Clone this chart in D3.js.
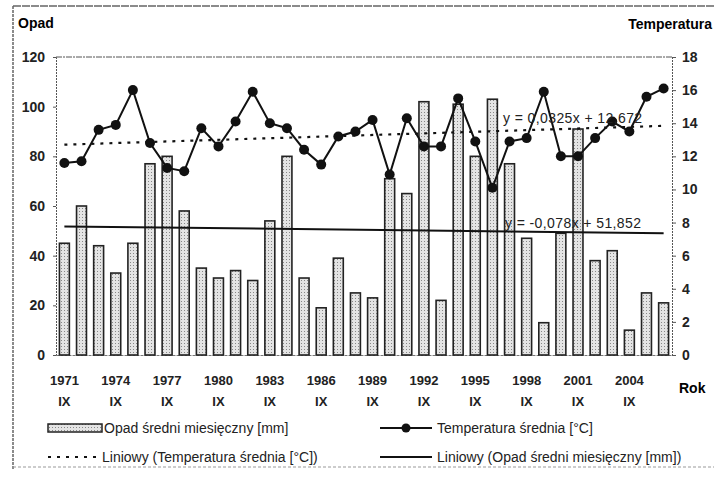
<!DOCTYPE html>
<html>
<head>
<meta charset="utf-8">
<script src="https://cdn.jsdelivr.net/npm/d3@7"></script>
<style>
  body { margin: 0; background: #fff; }
  svg { display: block; }
</style>
</head>
<body>
<div id="wykres"></div>
<script>
var width = 714,
    height = 479;

// dane
var lata = [1971, 1972, 1973, 1974, 1975, 1976, 1977, 1978, 1979, 1980, 1981, 1982,
            1983, 1984, 1985, 1986, 1987, 1988, 1989, 1990, 1991, 1992, 1993, 1994,
            1995, 1996, 1997, 1998, 1999, 2000, 2001, 2002, 2003, 2004, 2005, 2006];
var opad = [45, 60, 44, 33, 45, 77, 80, 58, 35, 31, 34, 30,
            54, 80, 31, 19, 39, 25, 23, 71, 65, 102, 22, 101,
            80, 103, 77, 47, 13, 49, 91, 38, 42, 10, 25, 21];
var temperatura = [11.6, 11.7, 13.6, 13.9, 16.0, 12.8, 11.3, 11.1, 13.7, 12.6, 14.1, 15.9,
                   14.0, 13.7, 12.4, 11.5, 13.2, 13.5, 14.2, 10.9, 14.3, 12.6, 12.6, 15.5,
                   12.9, 10.1, 12.9, 13.1, 15.9, 12.0, 12.0, 13.1, 14.1, 13.5, 15.6, 16.1];
var etykietyLat = [1971, 1974, 1977, 1980, 1983, 1986, 1989, 1992, 1995, 1998, 2001, 2004];
var trendTemp = [0.0325, 12.672];
var trendOpad = [-0.078, 51.852];
var ticksOpad = [0, 20, 40, 60, 80, 100, 120];
var ticksTemp = [0, 2, 4, 6, 8, 10, 12, 14, 16, 18];

var font = "'Liberation Sans', Arial, sans-serif";

var svg = d3.select("#wykres").append("svg")
    .attr("width", width)
    .attr("height", height)
    .style("background-color", "white")
    .attr("font-family", font);

var defs = svg.append("defs");
var wzor = defs.append("pattern")
    .attr("id", "kropki")
    .attr("width", 3)
    .attr("height", 3)
    .attr("patternUnits", "userSpaceOnUse");
wzor.append("rect").attr("width", 3).attr("height", 3).attr("fill", "#e4e4e4");
wzor.append("rect").attr("x", 1).attr("y", 1).attr("width", 1).attr("height", 1).attr("fill", "#888");

// ramka
svg.append("line")
    .attr("x1", 13).attr("x2", 714)
    .attr("y1", 6).attr("y2", 6)
    .attr("stroke", "#666")
    .attr("stroke-width", 1.5)
    .attr("stroke-dasharray", "8,1");
svg.append("line")
    .attr("x1", 13).attr("x2", 13)
    .attr("y1", 6).attr("y2", 470)
    .attr("stroke", "#666")
    .attr("stroke-width", 1.5)
    .attr("stroke-dasharray", "3,1");
svg.append("line")
    .attr("x1", 13).attr("x2", 714)
    .attr("y1", 467).attr("y2", 467)
    .attr("stroke", "#999")
    .attr("stroke-dasharray", "3,2");

var pLeft = 56, pRight = 672, pTop = 57, pBottom = 355;

var x = d3.scaleBand()
    .domain(lata)
    .range([pLeft, pRight])
    .paddingInner(0.42)
    .paddingOuter(0.2);

var yOpad = d3.scaleLinear().domain([0, 120]).range([pBottom, pTop]);
var yTemp = d3.scaleLinear().domain([0, 18]).range([pBottom, pTop]);

function cx(rok) { return x(rok) + x.bandwidth() / 2; }

// linia górna 120
svg.append("line")
    .attr("x1", pLeft).attr("x2", pRight)
    .attr("y1", yOpad(120)).attr("y2", yOpad(120))
    .attr("stroke", "#555")
    .attr("stroke-dasharray", "6,1,2,1");

// osie
var osLewa = svg.append("g")
    .attr("transform", "translate(" + pLeft + ",0)")
    .call(d3.axisLeft(yOpad).tickValues(ticksOpad).tickSize(3).tickPadding(8));
var osPrawa = svg.append("g")
    .attr("transform", "translate(" + pRight + ",0)")
    .call(d3.axisRight(yTemp).tickValues(ticksTemp).tickSize(4).tickPadding(6));
var osDolna = svg.append("g")
    .attr("transform", "translate(0," + pBottom + ")")
    .call(d3.axisBottom(x).tickValues([]).tickSizeOuter(0));

[osLewa, osPrawa].forEach(function(g) {
    g.select(".domain").attr("stroke", "#555").attr("stroke-dasharray", "2,1");
    g.selectAll(".tick line").attr("stroke", "#555");
    g.selectAll(".tick text")
        .attr("font-family", font)
        .style("font-size", "14px")
        .attr("font-weight", "bold")
        .attr("fill", "#222");
});
osDolna.select(".domain").attr("stroke", "#777").attr("stroke-dasharray", "3,1");

// słupki opadu
svg.selectAll("rect.opad")
    .data(lata)
    .enter()
    .append("rect")
    .attr("class", "opad")
    .attr("x", function(d) { return x(d); })
    .attr("width", x.bandwidth())
    .attr("y", function(d, i) { return yOpad(opad[i]); })
    .attr("height", function(d, i) { return pBottom - yOpad(opad[i]); })
    .attr("fill", "url(#kropki)")
    .attr("stroke", "#222")
    .attr("stroke-width", 1.6);

// linie trendu
var n = lata.length;
svg.append("line")
    .attr("x1", cx(lata[0])).attr("x2", cx(lata[n - 1]))
    .attr("y1", yOpad(trendOpad[0] * 1 + trendOpad[1]))
    .attr("y2", yOpad(trendOpad[0] * n + trendOpad[1]))
    .attr("stroke", "#111")
    .attr("stroke-width", 2);
svg.append("line")
    .attr("x1", cx(lata[0])).attr("x2", cx(lata[n - 1]))
    .attr("y1", yTemp(trendTemp[0] * 1 + trendTemp[1]))
    .attr("y2", yTemp(trendTemp[0] * n + trendTemp[1]))
    .attr("stroke", "#111")
    .attr("stroke-width", 2.2)
    .attr("stroke-dasharray", "3,6");

// temperatura
var linia = d3.line()
    .x(function(d) { return cx(d); })
    .y(function(d, i) { return yTemp(temperatura[i]); });
svg.append("path")
    .datum(lata)
    .attr("d", linia)
    .attr("fill", "none")
    .attr("stroke", "#111")
    .attr("stroke-width", 2);
svg.selectAll("circle.temp")
    .data(lata)
    .enter()
    .append("circle")
    .attr("class", "temp")
    .attr("cx", function(d) { return cx(d); })
    .attr("cy", function(d, i) { return yTemp(temperatura[i]); })
    .attr("r", 5)
    .attr("fill", "#111");

// równania
svg.append("text")
    .attr("x", 503).attr("y", 123)
    .style("font-size", "14px")
    .style("letter-spacing", "0.4px")
    .attr("fill", "#222")
    .text("y = 0,0325x + 12,672");
svg.append("text")
    .attr("x", 505).attr("y", 228)
    .style("font-size", "14px")
    .style("letter-spacing", "0.4px")
    .attr("fill", "#222")
    .text("y = -0,078x + 51,852");

// opisy osi
svg.append("text")
    .attr("x", 18).attr("y", 28)
    .style("font-size", "14px")
    .attr("font-weight", "bold")
    .text("Opad");
svg.append("text")
    .attr("x", 712).attr("y", 29)
    .attr("text-anchor", "end")
    .style("font-size", "14px")
    .attr("font-weight", "bold")
    .text("Temperatura");
svg.append("text")
    .attr("x", 679).attr("y", 393)
    .style("font-size", "14px")
    .attr("font-weight", "bold")
    .text("Rok");

// etykiety lat
var etyk = svg.selectAll("g.rok")
    .data(etykietyLat)
    .enter()
    .append("g")
    .attr("class", "rok")
    .attr("transform", function(d) { return "translate(" + cx(d) + ",0)"; })
    .attr("text-anchor", "middle")
    .style("font-size", "13px")
    .attr("font-weight", "bold")
    .attr("fill", "#222");
etyk.append("text").attr("y", 385).text(function(d) { return d; });
etyk.append("text").attr("y", 406).text("IX");

// legenda
var leg = svg.append("g")
    .style("font-size", "14px")
    .style("white-space", "pre")
    .attr("fill", "#222");
leg.append("rect")
    .attr("x", 48).attr("y", 424).attr("width", 54).attr("height", 8)
    .attr("fill", "url(#kropki)")
    .attr("stroke", "#222")
    .attr("stroke-width", 1.5);
leg.append("text").attr("x", 104).attr("y", 433).text("Opad średni miesięczny  [mm]");

leg.append("line")
    .attr("x1", 380).attr("x2", 432).attr("y1", 428).attr("y2", 428)
    .attr("stroke", "#111").attr("stroke-width", 2);
leg.append("circle").attr("cx", 406).attr("cy", 428).attr("r", 4.5).attr("fill", "#111");
leg.append("text").attr("x", 437).attr("y", 433).text("Temperatura średnia  [°C]");

leg.append("line")
    .attr("x1", 48).attr("x2", 100).attr("y1", 457).attr("y2", 457)
    .attr("stroke", "#111").attr("stroke-width", 2.2)
    .attr("stroke-dasharray", "3,6");
leg.append("text").attr("x", 102).attr("y", 462).text("Liniowy (Temperatura średnia  [°C])");

leg.append("line")
    .attr("x1", 380).attr("x2", 432).attr("y1", 457).attr("y2", 457)
    .attr("stroke", "#111").attr("stroke-width", 2);
leg.append("text").attr("x", 437).attr("y", 462).text("Liniowy (Opad średni miesięczny [mm])");
</script>
</body>
</html>
